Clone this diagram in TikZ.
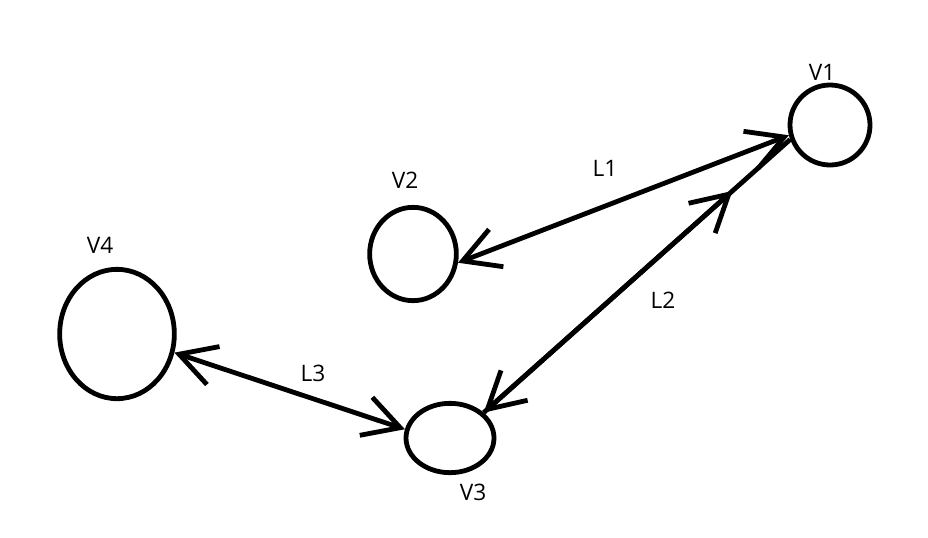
\documentclass[tikz,border=0pt]{standalone}
\usepackage{fontspec}
\setmainfont{Open Sans}
\usetikzlibrary{arrows.meta,shapes.geometric}

\begin{document}
\begin{tikzpicture}[x=0.75pt,y=-0.75pt,font=\fontsize{17}{20}\selectfont,
 >={Straight Barb[length=27pt,width=30pt]},
 vert/.style={draw,ellipse,line width=3.6pt,inner sep=0pt},
 edge/.style={line width=3.6pt}]
\useasboundingbox (0,0) rectangle (928,537);
% vertices
\node[vert,minimum width=60pt,minimum height=60pt] (v1) at (830,125) {};
\node[vert,minimum width=65pt,minimum height=70pt] (v2) at (413,254) {};
\node[vert,minimum width=66pt,minimum height=52pt] (v3) at (450,438) {};
\node[vert,minimum width=86pt,minimum height=97pt] (v4) at (117,334) {};
\node (t1) at (822,72) {V1};
\node (t2) at (405,180) {V2};
\node (t3) at (473,492) {V3};
\node (t4) at (100,245) {V4};
% links
\draw[edge,<->] (v2.-11) -- (v1.194);
\draw[edge] (v3.37) -- (v1.200);
\draw[edge,<->,shorten >=58pt] (v3.37) -- (v1.200);
\draw[edge,<->] (v4.-18) -- (v3.169);
\node (l1) at (605,168) {L1};
\node (l2) at (663,300) {L2};
\node (l3) at (313,373) {L3};
\end{tikzpicture}
\end{document}
